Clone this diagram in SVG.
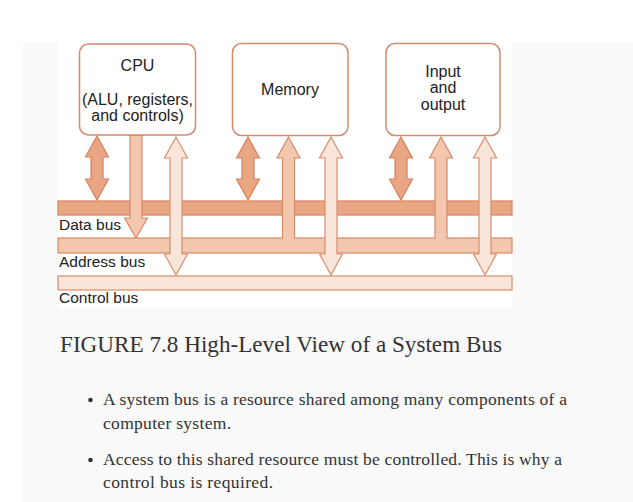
<svg xmlns="http://www.w3.org/2000/svg" width="633" height="502" viewBox="0 0 633 502">
<defs>
<style>
.box{fill:#ffffff;stroke:#d38a70;stroke-width:1.5}
.lbl{font-family:"Liberation Sans",Arial,sans-serif;font-size:16px;fill:#222;text-anchor:middle}
.bus{font-family:"Liberation Sans",Arial,sans-serif;font-size:15.5px;fill:#222}
.d{fill:#e9a682;stroke:#d4825f;stroke-width:1.2}
.a{fill:#f2c7ad;stroke:#d98a68;stroke-width:1.2}
.c{fill:#f9e5d9;stroke:#da8e6d;stroke-width:1.2}
.af{fill:#f2c7ad;stroke:none}
.ao{fill:none;stroke:#d98a68;stroke-width:1.2}
.cap{font-family:"Liberation Serif","DejaVu Serif",serif;font-size:23px;fill:#333}
.txt{font-family:"Liberation Serif","DejaVu Serif",serif;font-size:17.5px;fill:#333}
</style>
</defs>
<rect x="0" y="0" width="633" height="502" fill="#ffffff"/>
<rect x="23" y="42" width="610" height="460" fill="#f9f9f9"/>
<rect x="58" y="42" width="454" height="266" fill="#ffffff"/>

<g id="buses">
<rect class="d" x="58" y="201" width="454" height="14"/>
<rect class="a" x="58" y="238" width="454" height="15"/>
<rect class="c" x="58" y="276" width="454" height="14"/>
<text class="bus" x="59" y="230">Data bus</text>
<text class="bus" x="59" y="267">Address bus</text>
<text class="bus" x="59" y="303">Control bus</text>
</g>

<g id="cpu">
<rect class="box" x="79.5" y="44" width="116" height="91" rx="9"/>
<text class="lbl" x="137.5" y="71">CPU</text>
<text class="lbl" x="137.5" y="105">(ALU, registers,</text>
<text class="lbl" x="137.5" y="121">and controls)</text>
</g>
<g id="memory">
<rect class="box" x="232.5" y="43.5" width="115.5" height="92" rx="9"/>
<text class="lbl" x="290" y="95">Memory</text>
</g>
<g id="io">
<rect class="box" x="386" y="43.5" width="114" height="92" rx="9"/>
<text class="lbl" x="443" y="77">Input</text>
<text class="lbl" x="443" y="93">and</text>
<text class="lbl" x="443" y="110">output</text>
</g>

<g id="connectors">
<path class="d" d="M97,136 L108.5,157 L103,157 L103,179 L108.5,179 L97,200 L85.5,179 L91,179 L91,157 L85.5,157 Z"/>
<path class="d" d="M248,137 L259.5,158 L254,158 L254,179 L259.5,179 L248,200 L236.5,179 L242,179 L242,158 L236.5,158 Z"/>
<path class="d" d="M401,137 L412.5,158 L407,158 L407,179 L412.5,179 L401,200 L389.5,179 L395,179 L395,158 L389.5,158 Z"/>

<path class="a" d="M130,135.5 L130,218 L124.5,218 L136,238 L147.5,218 L142,218 L142,135.5 Z"/>
<path class="af" d="M282.5,240 L282.5,158 L277,158 L288.5,137 L300,158 L294.5,158 L294.5,240 Z"/>
<path class="ao" d="M282.5,238.6 L282.5,158 L277,158 L288.5,137 L300,158 L294.5,158 L294.5,238.6"/>
<path class="af" d="M435,240 L435,158 L429.5,158 L441,137 L452.5,158 L447,158 L447,240 Z"/>
<path class="ao" d="M435,238.6 L435,158 L429.5,158 L441,137 L452.5,158 L447,158 L447,238.6"/>

<path class="c" d="M176,137 L187.5,158 L182,158 L182,254 L187.5,254 L176,275 L164.5,254 L170,254 L170,158 L164.5,158 Z"/>
<path class="c" d="M331,137 L342.5,158 L337,158 L337,254 L342.5,254 L331,275 L319.5,254 L325,254 L325,158 L319.5,158 Z"/>
<path class="c" d="M485,137 L496.5,158 L491,158 L491,254 L496.5,254 L485,275 L473.5,254 L479,254 L479,158 L473.5,158 Z"/>
</g>

<text class="cap" x="60" y="352" textLength="442" lengthAdjust="spacingAndGlyphs">FIGURE 7.8 High-Level View of a System Bus</text>
<circle cx="90.5" cy="400" r="2.3" fill="#333"/>
<text class="txt" x="103" y="405" textLength="464">A system bus is a resource shared among many components of a</text>
<text class="txt" x="103" y="429" textLength="128">computer system.</text>
<circle cx="90.5" cy="460" r="2.3" fill="#333"/>
<text class="txt" x="103" y="465" textLength="459">Access to this shared resource must be controlled. This is why a</text>
<text class="txt" x="103" y="488" textLength="170">control bus is required.</text>
</svg>
